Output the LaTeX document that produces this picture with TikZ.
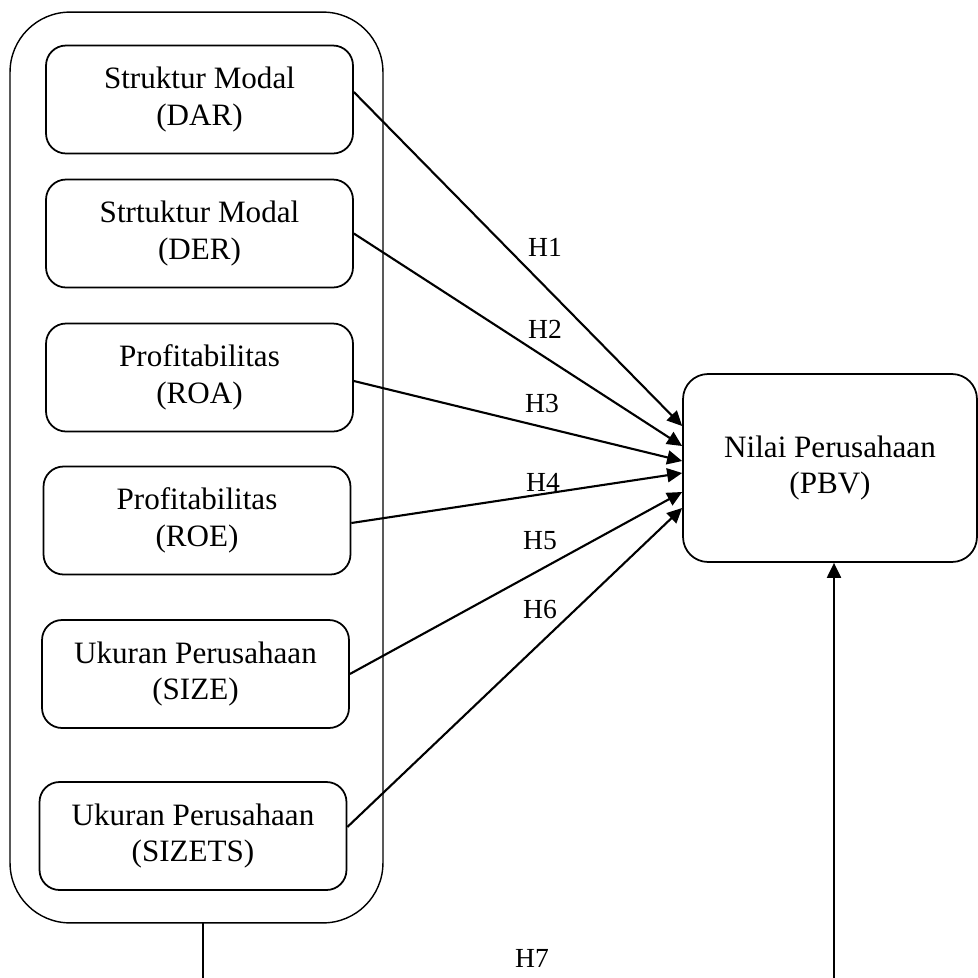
\documentclass[tikz,border=0pt]{standalone}
\usepackage{fontspec}
\setmainfont{Liberation Serif}
\usetikzlibrary{arrows.meta, positioning}

\begin{document}
\begin{tikzpicture}[
          x=0.02cm, y=-0.02cm,
          var/.style={draw, rounded corners=0.4cm, minimum width=6.14cm, minimum height=2.16cm, align=center, inner sep=0pt, line width=1pt, font=\fontsize{17.7}{21}\selectfont},
          group/.style={draw, rounded corners=1.2cm, minimum width=7.46cm, minimum height=18.22cm, inner sep=0pt, line width=0.8pt},
          target/.style={draw, rounded corners=0.5cm, minimum width=5.88cm, minimum height=3.76cm, align=center, inner sep=0pt, line width=1pt, font=\fontsize{17.7}{21}\selectfont},
          hyp/.style={inner sep=0pt, font=\fontsize{15.7}{18}\selectfont},
          link/.style={->, line width=1.2pt},
          >={Triangle[length=0.3cm, width=0.28cm]}
        ]
          \path[use as bounding box, fill=white] (0,0) rectangle (978,978);
          \clip (0,0) rectangle (978,978);

          % ノードの配置
          \node[group] (grp) at (196.5,467.5) {};
          \node[var] (dar) at (199.5,99.5) {Struktur Modal\\(DAR)};
          \node[var] (der) at (199.5,233.5) {Strtuktur Modal\\(DER)};
          \node[var] (roa) at (199.5,377.5) {Profitabilitas\\(ROA)};
          \node[var] (roe) at (197,520.5) {Profitabilitas\\(ROE)};
          \node[var] (size) at (195.5,674) {Ukuran Perusahaan\\(SIZE)};
          \node[var] (sizets) at (193,836) {Ukuran Perusahaan\\(SIZETS)};
          \node[target] (pbv) at (830,468) {Nilai Perusahaan\\(PBV)};

          % 仮説のラベル
          \node[hyp] (h1) at (545,247) {H1};
          \node[hyp] (h2) at (545,329) {H2};
          \node[hyp] (h3) at (542,403) {H3};
          \node[hyp] (h4) at (543,482) {H4};
          \node[hyp] (h5) at (540,541) {H5};
          \node[hyp] (h6) at (540,609) {H6};
          \node[hyp] (h7) at (532,958) {H7};

          % 矢印（エッジ）
          \draw[link] ([yshift=0.15cm]dar.east) -- ([yshift=0.84cm]pbv.west);
          \draw[link] (der.east) -- ([yshift=0.44cm]pbv.west);
          \draw[link] ([yshift=-0.07cm]roa.east) -- ([yshift=0.14cm]pbv.west);
          \draw[link] ([yshift=-0.05cm]roe.east) -- ([yshift=-0.1cm]pbv.west);
          \draw[link] (size.east) -- ([yshift=-0.48cm]pbv.west);
          \draw[link] ([yshift=0.18cm]sizets.east) -- ([yshift=-0.8cm]pbv.west);

          \coordinate (h7s) at (203,923);
          \draw[link] (h7s) -- ++(0,80) -| ([xshift=0.08cm]pbv.south);
        \end{tikzpicture}
\end{document}
